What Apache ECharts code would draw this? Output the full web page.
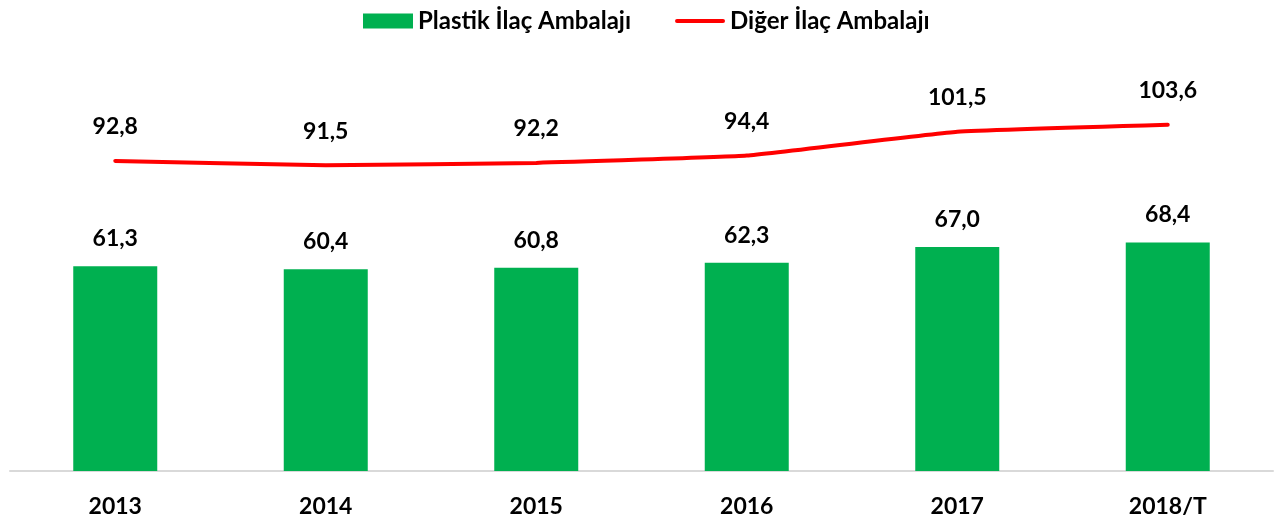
<!DOCTYPE html>
<html>
<head>
<meta charset="utf-8">
<script src="https://cdn.jsdelivr.net/npm/echarts@6/dist/echarts.min.js"></script>
<style>
  html, body { margin: 0; padding: 0; background: #fff; }
  #chart { width: 1276px; height: 521px; }
</style>
</head>
<body>
<div id="chart"></div>
<script>
// yıllar
const years = ['2013', '2014', '2015', '2016', '2017', '2018/T'];
// plastik ilaç ambalajı
const plastik = [61.3, 60.4, 60.8, 62.3, 67.0, 68.4];
// diğer ilaç ambalajı
const diger = [92.8, 91.5, 92.2, 94.4, 101.5, 103.6];

const FONT = 'Lato';

/**
 * virgüllü gösterim
 */
const fmt = p => p.value.toFixed(1).replace('.', ',');

const chart = echarts.init(document.getElementById('chart'));

let option = {
  animation: false,
  legend: {
    top: 4,
    left: 358,
    itemWidth: 50,
    itemHeight: 15,
    itemGap: 44,
    textStyle: { fontFamily: FONT, fontWeight: 'bold', fontSize: 24, color: '#000' },
    data: [
      { name: 'Plastik İlaç Ambalajı', icon: 'rect' },
      // kalın kırmızı çizgi simgesi
      {
        name: 'Diğer İlaç Ambalajı',
        icon: 'path://M2,0 L48,0 A2,2 0 0 1 48,4 L2,4 A2,2 0 0 1 2,0 Z',
        itemStyle: { color: '#ff0000', opacity: 1, borderWidth: 0 }
      }
    ]
  },
  grid: { left: 10, right: 3, top: 70, bottom: 50 },
  xAxis: {
    type: 'category',
    data: years,
    axisTick: { show: false },
    axisLine: { lineStyle: { color: '#d9d9d9', width: 2 } },
    axisLabel: { margin: 24, fontFamily: FONT, fontWeight: 'bold', fontSize: 23, color: '#000' }
  },
  yAxis: {
    type: 'value',
    min: 0,
    max: 120,
    show: false,
    splitLine: { show: false }
  },
  series: [
    {
      name: 'Plastik İlaç Ambalajı',
      type: 'bar',
      data: plastik,
      barWidth: 84,
      itemStyle: { color: '#00b050' },
      label: {
        show: true,
        position: 'top',
        distance: 16,
        formatter: fmt,
        fontFamily: FONT, fontWeight: 'bold', fontSize: 23, color: '#000'
      }
    },
    {
      name: 'Diğer İlaç Ambalajı',
      type: 'line',
      data: diger,
      smooth: 0.1,
      symbol: 'circle',
      symbolSize: 1,
      showSymbol: true,
      lineStyle: { color: '#ff0000', width: 4, cap: 'round' },
      itemStyle: { color: 'rgba(255,0,0,0)' },
      label: {
        show: true,
        position: 'top',
        distance: 22,
        formatter: fmt,
        fontFamily: FONT, fontWeight: 'bold', fontSize: 23, color: '#000'
      }
    }
  ]
};

chart.setOption(option);
</script>
</body>
</html>
